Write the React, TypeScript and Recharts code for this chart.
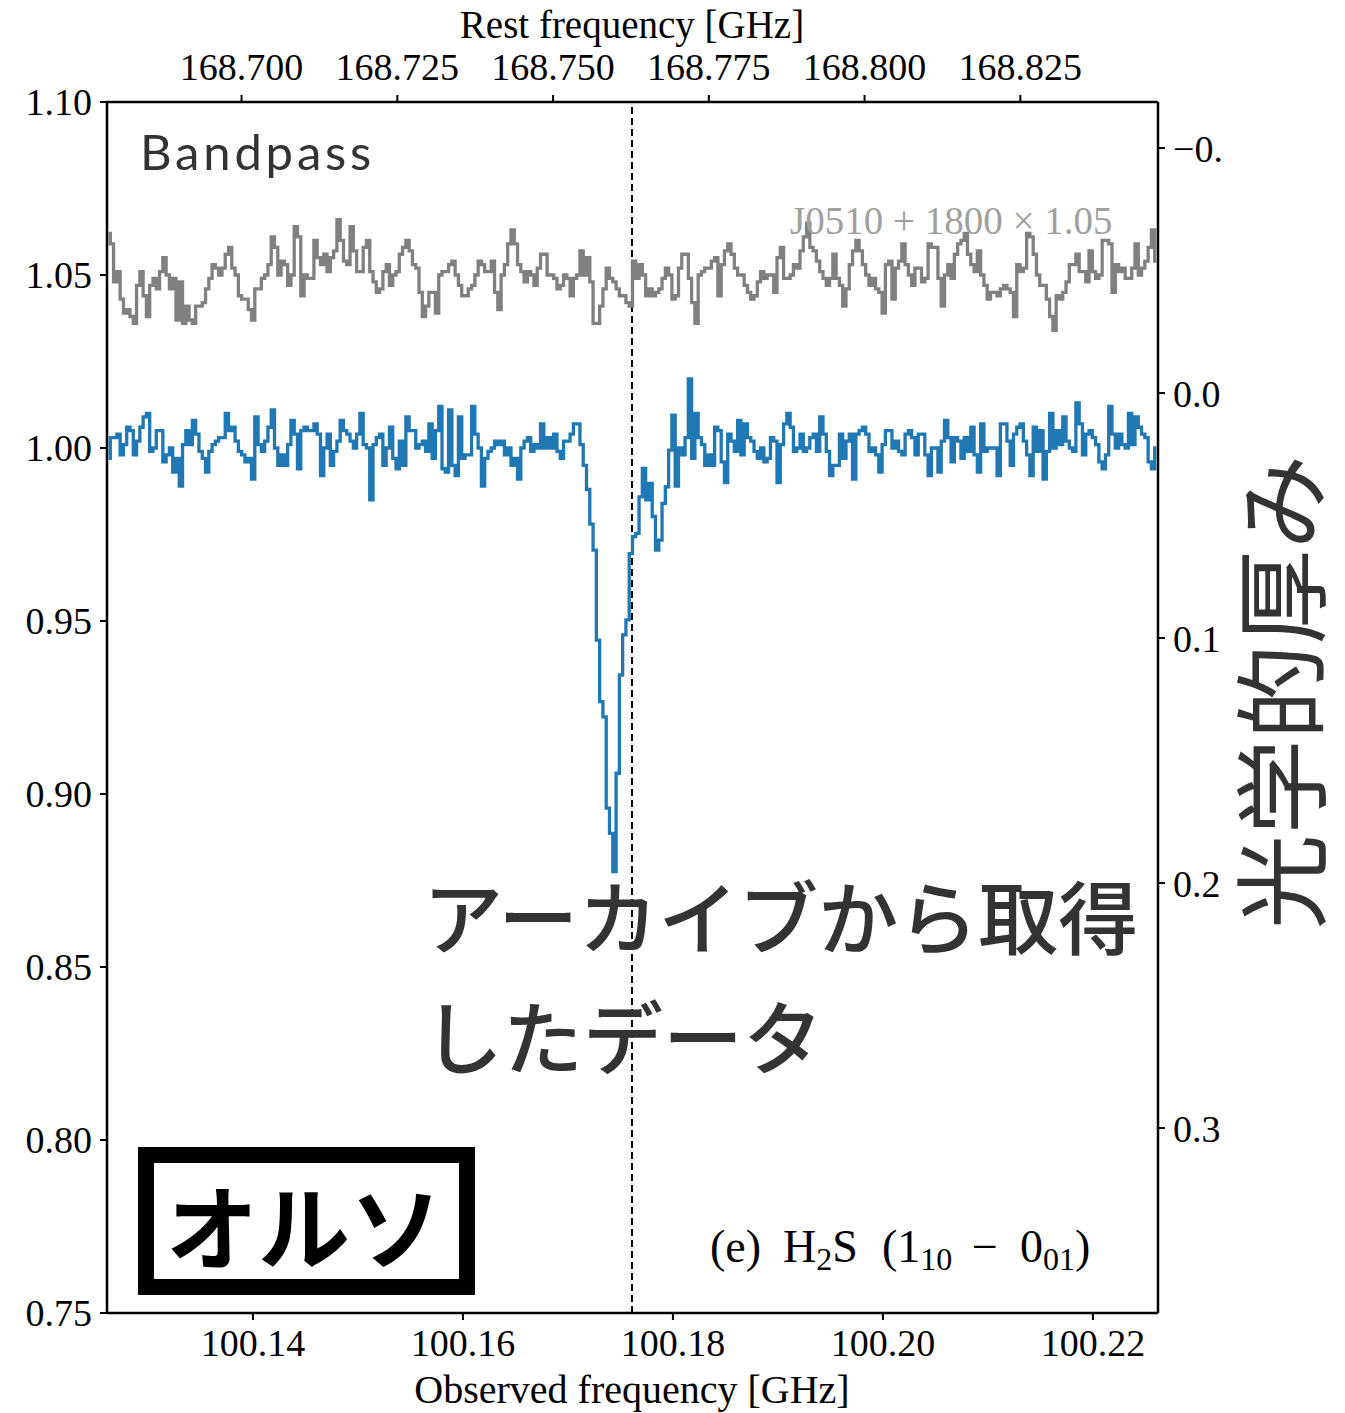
import React from "react";
import { LineChart, Line, XAxis, YAxis, ReferenceLine } from "recharts";

// axis ticks
const OBS_TICKS = [100.14, 100.16, 100.18, 100.2, 100.22];
const REST_TICKS = [168.7, 168.725, 168.75, 168.775, 168.8, 168.825];
const FLUX_TICKS = [0.75, 0.8, 0.85, 0.9, 0.95, 1.0, 1.05, 1.1];
const TAU_TICKS = [-0.1, 0, 0.1, 0.2, 0.3];

const OBS_RANGE = [100.1261, 100.2262];
const REST_RANGE = [168.6784, 168.8471];
const FLUX_RANGE = [0.75, 1.1];
const TAU_RANGE = [-0.1188, 0.3755];

// H2S (1_10 - 0_01): rest and observed frequency
const LINE_REST = 168.762762;
const LINE_FREQ = 100.1761;

// channel grid of the spectrum
const CH_START = 100.1261;
const CH_WIDTH = 0.00031281;

// target spectrum (blue)
const TARGET_FLUX = [
  0.997, 1.003, 1.003, 1.004, 0.998, 1.001, 1.006, 1.005, 0.998, 1.002,
  1.006, 1.009, 1.010, 0.999, 1.000, 1.005, 1.005, 0.996, 0.998, 1.000,
  0.993, 0.997, 0.989, 1.001, 1.005, 1.001, 1.008, 1.004, 0.999, 0.997,
  0.993, 0.999, 1.001, 1.002, 1.003, 1.003, 1.010, 1.005, 1.006, 1.002,
  0.999, 0.998, 0.996, 0.997, 0.991, 1.009, 1.001, 0.999, 1.002, 1.006,
  1.011, 1.000, 0.995, 0.998, 0.995, 1.001, 1.008, 1.004, 0.994, 1.005,
  1.006, 1.005, 1.005, 1.007, 1.004, 0.992, 1.000, 1.004, 0.995, 0.999,
  1.002, 1.008, 1.005, 1.004, 1.002, 1.000, 1.004, 1.010, 1.001, 1.000,
  0.985, 1.001, 1.003, 1.004, 0.995, 1.000, 1.006, 0.997, 0.994, 1.002,
  0.995, 1.009, 1.005, 1.005, 1.000, 1.001, 1.002, 0.999, 1.007, 0.997,
  1.005, 1.012, 0.994, 0.993, 1.011, 0.995, 0.992, 1.009, 0.997, 0.998,
  0.998, 1.012, 1.004, 1.000, 0.989, 0.997, 0.999, 1.000, 1.002, 1.001,
  1.002, 0.998, 1.000, 0.995, 0.997, 0.991, 1.000, 1.002, 1.003, 0.999,
  1.001, 1.000, 1.007, 1.000, 1.003, 1.000, 1.004, 0.999, 0.997, 1.002,
  1.002, 1.004, 1.007, 1.007, 1.001, 0.995, 0.988, 0.978, 0.9705, 0.9445,
  0.9267, 0.9223, 0.8959, 0.8886, 0.8776, 0.906, 0.9344, 0.946, 0.9503, 0.9695,
  0.9744, 0.9753, 0.9859, 0.9941, 0.985, 0.9898, 0.9802, 0.9705, 0.9734, 0.984,
  0.9888, 0.9994, 1.0095, 0.989, 1.000, 0.998, 1.003, 1.020,
  0.997, 1.010, 1.003, 1.001, 0.995, 0.998, 0.995, 1.006, 1.005, 0.996,
  0.990, 1.004, 1.002, 0.999, 1.008, 0.998, 1.007, 1.003, 1.002, 0.999,
  0.997, 1.000, 0.996, 0.997, 1.003, 1.002, 0.990, 1.001, 1.007, 1.010,
  1.006, 0.999, 1.000, 1.004, 0.999, 1.000, 1.003, 1.004, 0.999, 1.009,
  1.004, 0.999, 0.992, 0.995, 0.995, 1.004, 0.997, 1.002, 1.004, 0.991,
  1.004, 1.005, 1.006, 1.004, 0.999, 1.000, 0.998, 0.993, 1.001, 1.005,
  1.005,
  1.000, 1.002, 0.999, 0.998, 1.004, 1.005, 1.003, 0.998, 1.004, 1.004,
  0.998, 0.992, 1.000, 1.000, 0.993, 1.002, 1.008, 1.003, 0.996, 1.003,
  1.002, 0.997, 1.003, 0.999, 1.006, 0.998, 0.993, 1.007, 0.999, 1.000,
  1.000, 1.000, 0.992, 1.007, 1.007, 1.002, 0.995, 1.004, 1.006, 1.007,
  1.002, 0.998, 0.992, 1.006, 0.999, 1.005, 0.991, 0.999, 1.010, 1.000,
  1.005, 1.001, 1.009, 1.002, 1.000, 0.999, 1.013, 1.007, 0.998, 1.004,
  1.005, 1.003, 1.001, 0.996, 0.994, 0.998, 1.012, 1.004, 1.000, 1.004,
  1.001, 1.000, 1.010, 1.001, 1.009, 1.006, 1.004, 1.003, 0.996, 0.994,
  1.000,
];

// bandpass calibrator J0510+1800, already scaled by 1.05 (gray)
const CALIB_FLUX = [
  1.062, 1.059, 1.048, 1.051, 1.043, 1.039, 1.040, 1.038, 1.036, 1.047,
  1.051, 1.044, 1.038, 1.047, 1.049, 1.046, 1.051, 1.055, 1.050, 1.046,
  1.049, 1.037, 1.048, 1.036, 1.041, 1.037, 1.036, 1.041, 1.041, 1.042,
  1.046, 1.049, 1.053, 1.052, 1.050, 1.052, 1.056, 1.058, 1.052, 1.050,
  1.044, 1.043, 1.043, 1.040, 1.037, 1.046, 1.046, 1.049, 1.050, 1.053,
  1.061, 1.058, 1.050, 1.054, 1.053, 1.047, 1.050, 1.064, 1.061, 1.044,
  1.050, 1.049, 1.049, 1.060, 1.055, 1.053, 1.056, 1.051, 1.055, 1.057,
  1.066, 1.060, 1.054, 1.053, 1.064, 1.057, 1.051, 1.051, 1.058, 1.060,
  1.051, 1.048, 1.045, 1.046, 1.051, 1.053, 1.047, 1.050, 1.051, 1.056,
  1.058, 1.060, 1.057, 1.053, 1.052, 1.045, 1.038, 1.041, 1.045, 1.045,
  1.039, 1.050, 1.051, 1.051, 1.053, 1.054, 1.050, 1.047, 1.044, 1.044,
  1.046, 1.047, 1.050, 1.054, 1.053, 1.051, 1.051, 1.054, 1.045, 1.040,
  1.050, 1.053, 1.059, 1.063, 1.059, 1.053, 1.051, 1.048, 1.051, 1.050,
  1.047, 1.052, 1.056, 1.056, 1.050, 1.050, 1.049, 1.046, 1.047, 1.050,
  1.049, 1.044, 1.049, 1.050, 1.057, 1.050, 1.055, 1.048, 1.036, 1.036,
  1.041, 1.046, 1.052, 1.049, 1.048, 1.046, 1.044, 1.044, 1.042, 1.041,
  1.054, 1.049, 1.053, 1.050, 1.044, 1.046, 1.044, 1.045, 1.046, 1.049,
  1.052, 1.050, 1.043, 1.044, 1.052, 1.056, 1.056, 1.049, 1.042, 1.036,
  1.050, 1.051, 1.052, 1.052, 1.054, 1.055, 1.044, 1.053, 1.057, 1.059,
  1.056, 1.052, 1.050, 1.050, 1.047, 1.045, 1.043, 1.044, 1.048, 1.051,
  1.049, 1.050, 1.050, 1.045, 1.055, 1.058, 1.049, 1.049, 1.050, 1.053,
  1.052, 1.057, 1.061, 1.065, 1.058, 1.057, 1.054, 1.051, 1.049, 1.047,
  1.049, 1.056, 1.049, 1.047, 1.041, 1.046, 1.053, 1.057, 1.060, 1.057,
  1.053, 1.050, 1.047, 1.049, 1.046, 1.045, 1.039, 1.053, 1.054,
  1.043, 1.052, 1.054, 1.059, 1.053, 1.050, 1.047, 1.052, 1.052, 1.048,
  1.049, 1.059, 1.058, 1.058, 1.049, 1.041, 1.050, 1.053, 1.049, 1.056,
  1.059, 1.060, 1.062, 1.056, 1.053, 1.051, 1.057, 1.050, 1.047, 1.043,
  1.045, 1.045, 1.044, 1.046, 1.047, 1.046, 1.045, 1.038, 1.053, 1.051,
  1.052, 1.062, 1.061, 1.056, 1.050, 1.047, 1.047, 1.043, 1.038, 1.034,
  1.044, 1.043, 1.045, 1.048, 1.053, 1.053, 1.056, 1.051, 1.051, 1.048,
  1.057, 1.051, 1.049, 1.050, 1.060, 1.060, 1.059, 1.045, 1.053, 1.051,
  1.052, 1.049, 1.049, 1.052, 1.059, 1.050, 1.052, 1.054, 1.058, 1.063,
  1.054,
];

const SERIF = "'Liberation Serif', 'DejaVu Serif', serif";
const JP = "'Noto Sans CJK JP', 'Noto Sans', sans-serif";
const TICK = { fontSize: 38, fill: "#000", fontFamily: SERIF };

const data = TARGET_FLUX.map((v, i) => {
  const freq = CH_START + (i + 0.5) * CH_WIDTH;
  return {
    freq,
    rest: (freq * LINE_REST) / LINE_FREQ,
    target: v,
    calib: CALIB_FLUX[i],
  };
});

const axisLine = { stroke: "#000", strokeWidth: 2.5 };
const tickLine = { stroke: "#000", strokeWidth: 2 };

export default function App() {
  return (
    <div style={{ position: "absolute", left: 0, top: 0, width: 1345, height: 1413, background: "#fff" }}>
      <LineChart
        width={1345}
        height={1413}
        data={data}
        margin={{ top: 42, right: 107, bottom: 40, left: 47 }}
      >
        <XAxis
          xAxisId="obs"
          dataKey="freq"
          type="number"
          domain={OBS_RANGE}
          ticks={OBS_TICKS}
          interval={0}
          allowDataOverflow
          height={60}
          tick={TICK}
          tickSize={7}
          tickMargin={9}
          tickFormatter={(v) => v.toFixed(2)}
          axisLine={axisLine}
          tickLine={tickLine}
        />
        <XAxis
          xAxisId="rest"
          dataKey="rest"
          orientation="top"
          type="number"
          domain={REST_RANGE}
          ticks={REST_TICKS}
          interval={0}
          allowDataOverflow
          height={60}
          tick={TICK}
          tickSize={7}
          tickMargin={15}
          tickFormatter={(v) => v.toFixed(3)}
          axisLine={axisLine}
          tickLine={tickLine}
        />
        <YAxis
          yAxisId="flux"
          type="number"
          domain={FLUX_RANGE}
          ticks={FLUX_TICKS}
          interval={0}
          allowDataOverflow
          width={60}
          tick={TICK}
          tickSize={7}
          tickMargin={8}
          tickFormatter={(v) => v.toFixed(2)}
          axisLine={axisLine}
          tickLine={tickLine}
        />
        <YAxis
          yAxisId="tau"
          orientation="right"
          type="number"
          domain={TAU_RANGE}
          ticks={TAU_TICKS}
          reversed
          interval={0}
          allowDataOverflow
          width={80}
          tick={{ ...TICK, textAnchor: "start" }}
          tickSize={7}
          tickMargin={8}
          tickFormatter={(v) => (v < 0 ? "\u22120." : v.toFixed(1))}
          axisLine={axisLine}
          tickLine={tickLine}
        />

        <ReferenceLine
          xAxisId="obs"
          yAxisId="flux"
          x={LINE_FREQ}
          stroke="#000"
          strokeWidth={2}
          strokeDasharray="7 4"
        />

        {/* invisible series so the rest-frequency axis gets its scale */}
        <Line
          xAxisId="rest"
          yAxisId="flux"
          dataKey="target"
          type="step"
          stroke="transparent"
          strokeWidth={0}
          dot={false}
          activeDot={false}
          isAnimationActive={false}
        />
        <Line
          xAxisId="obs"
          yAxisId="flux"
          dataKey="calib"
          type="step"
          stroke="#808080"
          strokeWidth={3.3}
          dot={false}
          isAnimationActive={false}
        />
        <Line
          xAxisId="obs"
          yAxisId="flux"
          dataKey="target"
          type="step"
          stroke="#1f77b4"
          strokeWidth={3.3}
          dot={false}
          isAnimationActive={false}
        />
      </LineChart>

      {/* labels and annotations */}
      <svg
        width={1345}
        height={1413}
        style={{ position: "absolute", left: 0, top: 0, pointerEvents: "none" }}
      >
        <text x={632} y={38} textAnchor="middle" fontFamily={SERIF} fontSize={39}>
          Rest frequency [GHz]
        </text>
        <text x={632} y={1403} textAnchor="middle" fontFamily={SERIF} fontSize={40}>
          Observed frequency [GHz]
        </text>
        <text
          transform="translate(1276,692) rotate(-90)"
          textAnchor="middle"
          dominantBaseline="central"
          fontFamily={JP}
          fontSize={95}
          fill="#333"
        >
          光学的厚み
        </text>

        <text x={140} y={170} fontFamily="Lato, 'Noto Sans', sans-serif" fontSize={49} letterSpacing={3.8} fill="#333">
          Bandpass
        </text>
        <text x={790} y={234} fontFamily={SERIF} fontSize={39} fill="#a0a0a0">
          J0510 + 1800 × 1.05
        </text>

        <text x={423} y={948} fontFamily={JP} fontSize={80} fontWeight={500} fill="#333">
          アーカイブから取得
        </text>
        <text x={423} y={1068} fontFamily={JP} fontSize={80} fontWeight={500} fill="#333">
          したデータ
        </text>

        <rect x={146} y={1155} width={321} height={132} fill="#fff" stroke="#000" strokeWidth={16} />
        <text
          x={304}
          y={1222}
          textAnchor="middle"
          dominantBaseline="central"
          fontFamily={JP}
          fontSize={92}
          fontWeight={700}
          fill="#000"
        >
          オルソ
        </text>

        <text y={1262} fontFamily={SERIF} fontSize={46} fill="#000">
          <tspan x={710}>(e)</tspan>
          <tspan x={783}>H</tspan>
          <tspan fontSize={32} dy={8}>2</tspan>
          <tspan dy={-8}>S</tspan>
          <tspan x={882}>(1</tspan>
          <tspan fontSize={32} dy={8}>10</tspan>
          <tspan x={972} dy={-8}>−</tspan>
          <tspan x={1020}>0</tspan>
          <tspan fontSize={32} dy={8}>01</tspan>
          <tspan dy={-8}>)</tspan>
        </text>
      </svg>
    </div>
  );
}
